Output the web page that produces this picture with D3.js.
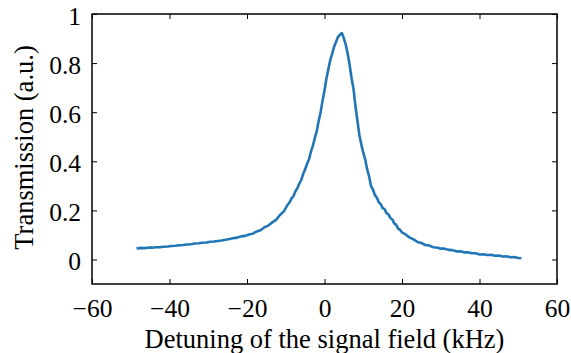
<!DOCTYPE html>
<html>
<head>
<meta charset="utf-8">
<script src="https://cdn.jsdelivr.net/npm/d3@7"></script>
<style>
  body { margin: 0; background: #fff; }
  svg text { font-family: "Liberation Serif", "Times New Roman", "DejaVu Serif", serif; fill: #000; }
</style>
</head>
<body>
<div id="chart"></div>
<script>
// detuning (kHz) and transmission (a.u.)
var detuning = [
  -48.5, -47.5, -46.5, -45.5, -44.5, -43.5, -42.5, -41.5, -40.5, -39.5,
  -38.5, -37.5, -36.5, -35.5, -34.5, -33.5, -32.5, -31.5, -30.5, -29.5,
  -28.5, -27.5, -26.5, -25.5, -24.5, -23.5, -22.5, -21.5, -20.5, -19.5,
  -18.5, -17.5, -16.5, -15.5, -14.5, -13.5, -12.5, -11.5, -10.5, -9.5,
  -9, -8.5, -8, -7.5, -7, -6.5, -6, -5.5, -5, -4.5,
  -4, -3.5, -3, -2.5, -2, -1.5, -1, -0.5, 0, 0.5,
  1, 1.5, 2, 2.5, 3, 3.5, 4, 4.5, 5, 5.5,
  6, 6.5, 7, 7.5, 8, 8.5, 9, 9.5, 10, 10.5,
  11, 11.5, 12, 12.5, 13, 13.5, 14, 14.5, 15, 15.5,
  16, 16.5, 17, 17.5, 18, 18.5, 19, 19.5, 20, 21,
  22, 23, 24, 25, 26, 27, 28, 29, 30, 31,
  32, 33, 34, 35, 36, 37, 38, 39, 40, 41,
  42, 43, 44, 45, 46, 47, 48, 49, 50, 50.8
];
var transmission = [
  0.045, 0.047, 0.046, 0.048, 0.048, 0.050, 0.050, 0.052, 0.053, 0.055,
  0.056, 0.058, 0.059, 0.061, 0.062, 0.065, 0.066, 0.068, 0.069, 0.072,
  0.073, 0.075, 0.077, 0.080, 0.083, 0.087, 0.089, 0.094, 0.096, 0.102,
  0.105, 0.114, 0.119, 0.131, 0.138, 0.151, 0.161, 0.181, 0.196, 0.223,
  0.233, 0.249, 0.258, 0.278, 0.290, 0.309, 0.323, 0.349, 0.367, 0.390,
  0.408, 0.439, 0.463, 0.495, 0.523, 0.564, 0.601, 0.647, 0.688, 0.737,
  0.776, 0.814, 0.839, 0.868, 0.887, 0.907, 0.916, 0.922, 0.901, 0.874,
  0.837, 0.791, 0.737, 0.693, 0.623, 0.565, 0.507, 0.469, 0.435, 0.408,
  0.368, 0.339, 0.299, 0.285, 0.262, 0.252, 0.233, 0.226, 0.209, 0.205,
  0.189, 0.184, 0.169, 0.163, 0.147, 0.141, 0.125, 0.121, 0.110, 0.101,
  0.089, 0.082, 0.071, 0.067, 0.059, 0.057, 0.050, 0.049, 0.044, 0.044,
  0.039, 0.038, 0.033, 0.033, 0.029, 0.029, 0.025, 0.025, 0.020, 0.021,
  0.018, 0.019, 0.015, 0.016, 0.012, 0.013, 0.009, 0.010, 0.006, 0.005
];
var xTicks = [-60, -40, -20, 0, 20, 40, 60];
var yTicks = [0, 0.2, 0.4, 0.6, 0.8, 1];

var margin = { top: 14, right: 14, bottom: 69, left: 92 },
    width = 571 - margin.left - margin.right,
    height = 353 - margin.top - margin.bottom;

var svg = d3.select("#chart")
    .append("svg")
    .attr("width", 571)
    .attr("height", 353)
    .append("g")
    .attr("transform", "translate(" + margin.left + "," + margin.top + ")");

var x = d3.scaleLinear().domain([-60, 60]).range([0, width]);
var y = d3.scaleLinear().domain([-0.1, 1]).range([height, 0]);

var fmt = function (d) { return d < 0 ? "\u2212" + Math.abs(d) : String(d); };

// bottom axis, ticks inward
svg.append("g")
    .attr("transform", "translate(0," + height + ")")
    .call(d3.axisBottom(x).tickValues(xTicks).tickSizeInner(-5).tickSizeOuter(0).tickPadding(15).tickFormat(fmt));
// top axis, ticks only
svg.append("g")
    .call(d3.axisTop(x).tickValues(xTicks).tickSizeInner(-5).tickSizeOuter(0).tickFormat(""));
// left axis
var yAxis = svg.append("g")
    .call(d3.axisLeft(y).tickValues(yTicks).tickSizeInner(-5).tickSizeOuter(0).tickPadding(11).tickFormat(function (d) { return String(d); }));
yAxis.selectAll("text").attr("dy", "0.4em");
// right axis, ticks only
svg.append("g")
    .attr("transform", "translate(" + width + ",0)")
    .call(d3.axisRight(y).tickValues(yTicks).tickSizeInner(-5).tickSizeOuter(0).tickFormat(""));

svg.selectAll(".domain").remove();
svg.selectAll("g").attr("font-family", null).attr("font-size", null);
svg.selectAll(".tick line").attr("stroke", "#000").attr("stroke-width", 1);
svg.selectAll(".tick text")
    .style("font-family", "'Liberation Serif', 'DejaVu Serif', serif")
    .style("font-size", "25.5px")
    .attr("fill", "#000");

// box
svg.append("rect")
    .attr("x", 0).attr("y", 0)
    .attr("width", width).attr("height", height)
    .attr("fill", "none")
    .attr("stroke", "#000")
    .attr("stroke-width", 1.5);

// trace
var pts = detuning.map(function (d, i) { return [d, transmission[i]]; });
svg.append("path")
    .datum(pts)
    .attr("fill", "none")
    .attr("stroke", "#2176b6")
    .attr("stroke-width", 2.6)
    .attr("stroke-linejoin", "round")
    .attr("d", d3.line()
        .x(function (d) { return x(d[0]); })
        .y(function (d) { return y(d[1]); }));

// axis labels
svg.append("text")
    .attr("x", width / 2)
    .attr("y", height + 64)
    .attr("text-anchor", "middle")
    .style("font-family", "'Liberation Serif', 'DejaVu Serif', serif")
    .style("font-size", "26.5px")
    .text("Detuning of the signal field (kHz)");

svg.append("text")
    .attr("transform", "translate(" + (-59) + "," + (height / 2 - 1.5) + ") rotate(-90)")
    .attr("text-anchor", "middle")
    .style("font-family", "'Liberation Serif', 'DejaVu Serif', serif")
    .style("font-size", "26.5px")
    .text("Transmission (a.u.)");
</script>
</body>
</html>
